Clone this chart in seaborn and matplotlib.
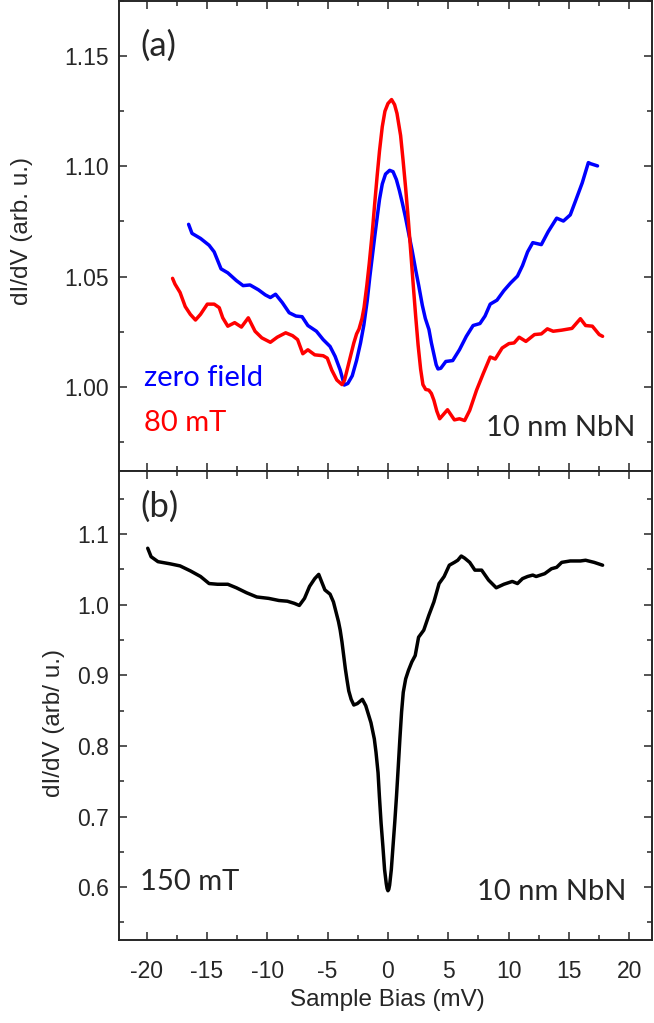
import numpy as np
import pandas as pd
import matplotlib
matplotlib.use("Agg")
import matplotlib.pyplot as plt
from matplotlib.ticker import MultipleLocator
import seaborn as sns

# panel (a): zero field
bias_zero = [-16.53, -16.25, -15.54, -14.83, -14.41, -13.84, -13.28, -12.57, -12.01, -11.44,
             -10.74, -10.17, -9.75, -9.32, -8.76, -8.19, -7.63, -7.12, -6.64, -5.93,
             -5.37, -4.80, -4.38, -3.96, -3.62, -3.33, -2.96, -2.60, -2.27, -2.00,
             -1.72, -1.50, -1.30, -1.10, -0.89, -0.70, -0.47, -0.20, 0.14, 0.42,
             0.70, 0.95, 1.19, 1.45, 1.74, 2.00, 2.30, 2.55, 2.85, 3.10,
             3.40, 3.60, 3.82, 4.00, 4.15, 4.38, 4.80, 5.37, 5.93, 6.50,
             7.06, 7.63, 8.05, 8.48, 9.04, 9.61, 10.17, 10.74, 11.16, 11.58,
             12.01, 12.72, 13.28, 13.99, 14.55, 15.12, 15.54, 16.11, 16.62, 16.81,
             17.38]
didv_zero = [1.0737, 1.0696, 1.0673, 1.0642, 1.0612, 1.0535, 1.0517, 1.0482, 1.0459, 1.0462,
             1.0440, 1.0417, 1.0405, 1.0420, 1.0382, 1.0336, 1.0321, 1.0318, 1.0278, 1.0252,
             1.0214, 1.0183, 1.0138, 1.0076, 1.0008, 1.0015, 1.0050, 1.0120, 1.0200, 1.0280,
             1.0390, 1.0500, 1.0590, 1.0680, 1.0770, 1.0850, 1.0920, 1.0965, 1.0982, 1.0976,
             1.0940, 1.0890, 1.0835, 1.0770, 1.0690, 1.0620, 1.0530, 1.0460, 1.0370, 1.0310,
             1.0260, 1.0200, 1.0145, 1.0100, 1.0081, 1.0084, 1.0115, 1.0119, 1.0168, 1.0229,
             1.0278, 1.0287, 1.0321, 1.0375, 1.0393, 1.0436, 1.0471, 1.0502, 1.0550, 1.0612,
             1.0654, 1.0645, 1.0703, 1.0765, 1.0752, 1.0780, 1.0841, 1.0925, 1.1017, 1.1012,
             1.1002]

# panel (a): 80 mT
bias_80 = [-17.86, -17.66, -17.24, -16.81, -16.39, -15.96, -15.54, -14.98, -14.41, -13.99,
           -13.70, -13.28, -12.71, -12.15, -11.58, -11.02, -10.46, -9.75, -9.18, -8.48,
           -7.91, -7.49, -7.06, -6.64, -6.07, -5.37, -5.03, -4.66, -4.24, -3.81,
           -3.60, -3.39, -3.10, -2.83, -2.60, -2.40, -2.15, -1.98, -1.75, -1.55,
           -1.30, -1.10, -0.89, -0.70, -0.47, -0.25, 0.00, 0.30, 0.55, 0.75,
           1.05, 1.25, 1.47, 1.70, 1.88, 2.10, 2.30, 2.50, 2.71, 2.90,
           3.13, 3.39, 3.60, 3.81, 4.05, 4.29, 4.94, 5.51, 5.93, 6.36,
           6.78, 7.35, 7.91, 8.48, 8.90, 9.47, 10.03, 10.46, 10.88, 11.44,
           12.15, 12.72, 13.22, 13.70, 14.41, 15.26, 15.96, 16.39, 16.95, 17.52,
           17.80]
didv_80 = [1.0492, 1.0466, 1.0428, 1.0364, 1.0329, 1.0303, 1.0329, 1.0375, 1.0375, 1.0359,
           1.0313, 1.0275, 1.0291, 1.0271, 1.0313, 1.0252, 1.0222, 1.0202, 1.0225, 1.0245,
           1.0232, 1.0214, 1.0150, 1.0168, 1.0145, 1.0141, 1.0130, 1.0076, 1.0031, 1.0010,
           1.0030, 1.0076, 1.0140, 1.0199, 1.0240, 1.0262, 1.0310, 1.0360, 1.0460, 1.0560,
           1.0700, 1.0830, 1.0960, 1.1070, 1.1180, 1.1250, 1.1285, 1.1303, 1.1280, 1.1240,
           1.1140, 1.1030, 1.0900, 1.0750, 1.0620, 1.0460, 1.0320, 1.0190, 1.0080, 1.0010,
           0.9988, 0.9985, 0.9970, 0.9939, 0.9890, 0.9855, 0.9896, 0.9850, 0.9855, 0.9847,
           0.9893, 0.9985, 1.0061, 1.0135, 1.0126, 1.0176, 1.0196, 1.0199, 1.0225, 1.0206,
           1.0237, 1.0240, 1.0263, 1.0252, 1.0257, 1.0265, 1.0309, 1.0278, 1.0275, 1.0237,
           1.0229]

# panel (b): 150 mT
bias_150 = [-19.92, -19.64, -19.07, -18.08, -17.24, -16.39, -15.54, -14.83, -14.13, -13.28,
            -12.57, -11.73, -10.88, -9.89, -9.04, -8.34, -7.77, -7.35, -6.92, -6.50,
            -6.07, -5.74, -5.51, -5.23, -4.80, -4.52, -4.10, -3.96, -3.81, -3.67,
            -3.53, -3.39, -3.25, -3.05, -2.83, -2.54, -2.12, -1.84, -1.41, -1.13,
            -0.99, -0.82, -0.71, -0.57, -0.42, -0.28, -0.14, -0.07, 0.00, 0.07,
            0.14, 0.28, 0.42, 0.57, 0.71, 0.85, 0.99, 1.13, 1.27, 1.47,
            1.70, 1.98, 2.26, 2.54, 2.97, 3.39, 3.81, 4.24, 4.66, 5.09,
            5.51, 5.79, 6.08, 6.36, 6.78, 7.21, 7.77, 8.34, 8.98, 9.61,
            10.31, 10.74, 11.16, 11.58, 12.01, 12.29, 13.00, 13.56, 13.99, 14.41,
            15.12, 15.96, 16.39, 17.10, 17.80]
didv_150 = [1.080, 1.068, 1.061, 1.058, 1.055, 1.048, 1.040, 1.030, 1.029, 1.029,
            1.024, 1.017, 1.011, 1.009, 1.006, 1.005, 1.002, 0.999, 1.009, 1.026,
            1.037, 1.043, 1.033, 1.021, 1.015, 1.004, 0.976, 0.964, 0.947, 0.928,
            0.909, 0.893, 0.878, 0.866, 0.858, 0.860, 0.866, 0.857, 0.833, 0.810,
            0.791, 0.762, 0.729, 0.691, 0.658, 0.625, 0.605, 0.598, 0.595, 0.597,
            0.603, 0.625, 0.658, 0.693, 0.729, 0.769, 0.810, 0.848, 0.876, 0.895,
            0.907, 0.919, 0.928, 0.954, 0.964, 0.985, 1.004, 1.030, 1.040, 1.056,
            1.060, 1.063, 1.069, 1.066, 1.060, 1.049, 1.049, 1.035, 1.024, 1.029,
            1.033, 1.030, 1.037, 1.040, 1.042, 1.040, 1.044, 1.051, 1.053, 1.060,
            1.062, 1.062, 1.063, 1.060, 1.056]

df_a = pd.concat([
    pd.DataFrame({"bias": bias_zero, "didv": didv_zero, "field": "zero field"}),
    pd.DataFrame({"bias": bias_80, "didv": didv_80, "field": "80 mT"}),
])
df_b = pd.DataFrame({"bias": bias_150, "didv": didv_150})

sns.set_style("ticks")
plt.rcParams["font.family"] = ["Liberation Sans", "DejaVu Sans"]
plt.rcParams["axes.unicode_minus"] = False
note_font = ["Lato", "DejaVu Sans"]

fig = plt.figure(figsize=(6.54, 10.23), dpi=100)
gs = fig.add_gridspec(2, 1, left=0.182, right=0.997, top=0.999, bottom=0.081, hspace=0)
ax1 = fig.add_subplot(gs[0])
ax2 = fig.add_subplot(gs[1], sharex=ax1)

sns.lineplot(data=df_a, x="bias", y="didv", hue="field", palette={"zero field": "#0000ff", "80 mT": "#ff0000"},
             sort=False, estimator=None, linewidth=2.5, legend=False, ax=ax1)
sns.lineplot(data=df_b, x="bias", y="didv", color="black", sort=False, estimator=None,
             linewidth=2.5, ax=ax2)
for ax in (ax1, ax2):
    for ln in ax.get_lines():
        ln.set_solid_joinstyle("round")

ax1.set_xlim(-22.3, 21.9)
ax1.set_ylim(0.962, 1.175)
ax2.set_ylim(0.525, 1.19)

ax1.xaxis.set_major_locator(MultipleLocator(5))
ax1.xaxis.set_minor_locator(MultipleLocator(2.5))
ax1.yaxis.set_major_locator(MultipleLocator(0.05))
ax1.yaxis.set_minor_locator(MultipleLocator(0.025))
ax2.yaxis.set_major_locator(MultipleLocator(0.1))
ax2.yaxis.set_minor_locator(MultipleLocator(0.05))
ax1.yaxis.set_major_formatter(plt.FormatStrFormatter("%.2f"))
ax2.yaxis.set_major_formatter(plt.FormatStrFormatter("%.1f"))

for ax in (ax1, ax2):
    for s in ax.spines.values():
        s.set_linewidth(1.4)
    ax.tick_params(which="both", direction="in", top=True, right=True, width=1.1, labelsize=16.5)
    ax.tick_params(which="major", length=6)
    ax.tick_params(which="minor", length=3.3)
    ax.tick_params(axis="y", pad=7)
    ax.tick_params(axis="x", pad=14)
ax1.tick_params(axis="x", labelbottom=False)

ax1.set_xlabel("")
ax1.set_ylabel("dI/dV (arb. u.)", fontsize=17.5)
ax1.yaxis.set_label_coords(-0.161, 0.51)
ax2.set_ylabel("dI/dV (arb/ u.)", fontsize=17.5)
ax2.yaxis.set_label_coords(-0.101, 0.463)
ax2.set_xlabel("Sample Bias (mV)", fontsize=17.5)
ax2.xaxis.set_label_coords(0.504, -0.105)

ax1.text(0.04, 0.904, "(a)", transform=ax1.transAxes, fontsize=25, family=note_font, va="center")
ax1.text(0.047, 0.197, "zero field", transform=ax1.transAxes, fontsize=21, family=note_font,
         color="#0000ff", va="center")
ax1.text(0.047, 0.102, "80 mT", transform=ax1.transAxes, fontsize=21, family=note_font,
         color="#ff0000", va="center")
ax1.text(0.968, 0.091, "10 nm NbN", transform=ax1.transAxes, fontsize=21, family=note_font,
         ha="right", va="center")
ax2.text(0.04, 0.923, "(b)", transform=ax2.transAxes, fontsize=25, family=note_font, va="center")
ax2.text(0.04, 0.124, "150 mT", transform=ax2.transAxes, fontsize=21, family=note_font, va="center")
ax2.text(0.951, 0.102, "10 nm NbN", transform=ax2.transAxes, fontsize=21, family=note_font,
         ha="right", va="center")

fig.savefig("out.png", dpi=100)
